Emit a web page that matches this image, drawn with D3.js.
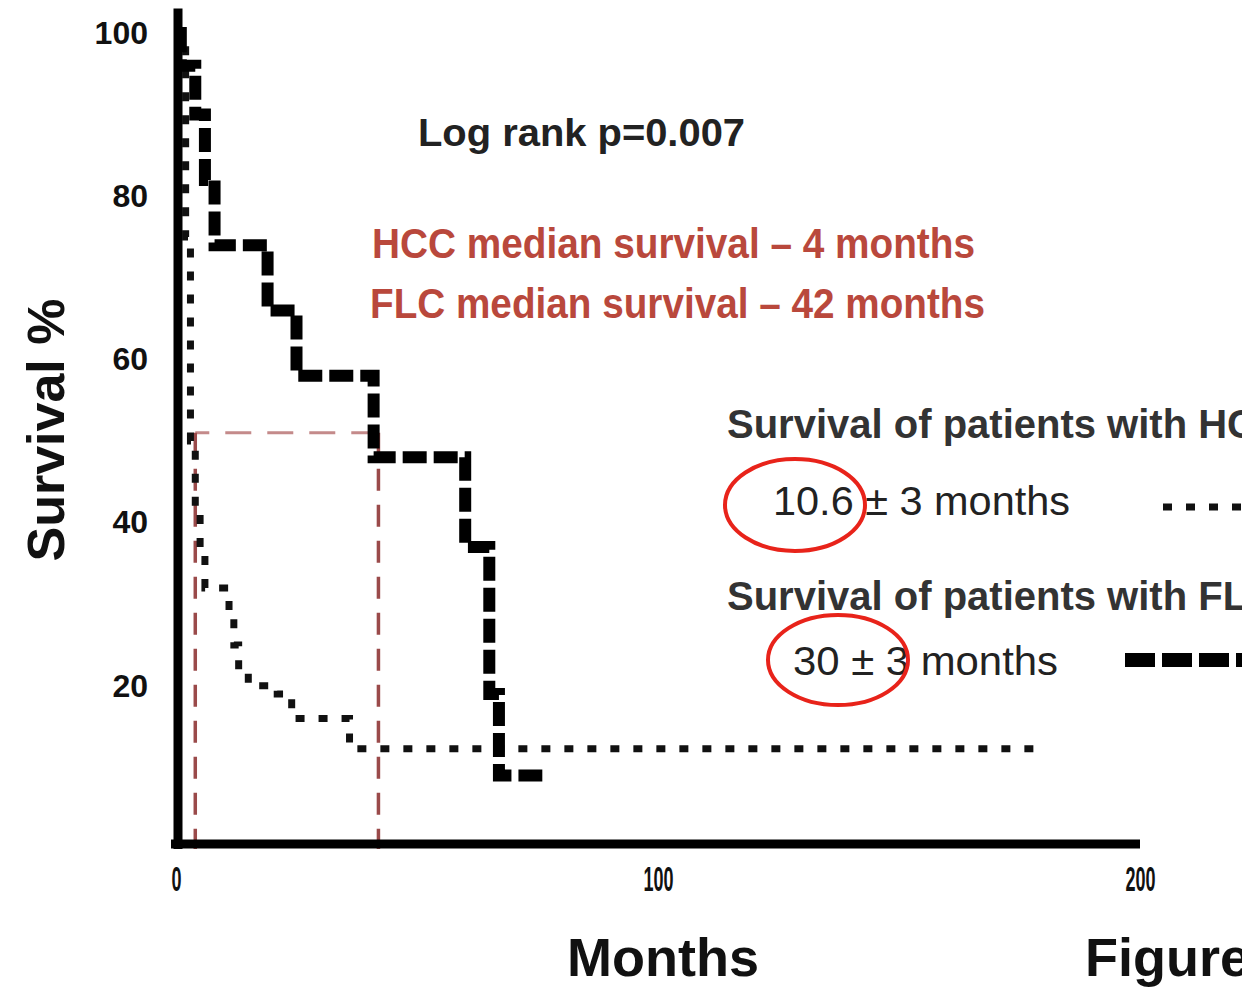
<!DOCTYPE html>
<html lang="en">
<head>
<meta charset="UTF-8">
<title>Survival HCC vs FLC</title>
<script src="https://d3js.org/d3.v7.min.js"></script>
<style>
  body { margin: 0; background: #fff; }
  text { font-family: "Liberation Sans", Arial, sans-serif; }
</style>
</head>
<body>
<script>
// survival steps: [month, survival %]
const hccSteps = [[0,100],[2,75],[3,50],[4,42],[5,36],[6,32],[11,29],[12,25],[13,22],[15,20],[21,19],[24,16],[36,12.3],[178,12.3]];
const flcSteps = [[0,100],[1,96],[4,90],[6,82],[8,74],[19,66],[25,58],[41,48],[60,37],[65,19],[67,9],[76,9]];
const medianMonths = [4, 42];
const medianLevel = 51;
const yTicks = [20, 40, 60, 80, 100];
const xTicks = [0, 100, 200];

const W = 1242, H = 990;
const svg = d3.select("body").append("svg").attr("width", W).attr("height", H);

const x = d3.scaleLinear().domain([0, 200]).range([176, 1140]);
const y = d3.scaleLinear().domain([0, 100]).range([849, 33]);

// median guide lines
const red = "#9a4a4a";
svg.append("line")
   .attr("x1", x(medianMonths[0])).attr("x2", x(medianMonths[1]))
   .attr("y1", y(medianLevel)).attr("y2", y(medianLevel))
   .attr("stroke", "#c48a8a").attr("stroke-width", 3).attr("stroke-dasharray", "26,16")
   .attr("stroke-dashoffset", -30);
svg.selectAll("line.med").data(medianMonths).enter().append("line")
   .attr("class", "med")
   .attr("x1", d => x(d)).attr("x2", d => x(d))
   .attr("y1", y(medianLevel)).attr("y2", y(0))
   .attr("stroke", red).attr("stroke-width", 3.5).attr("stroke-dasharray", "22,14");

// curves
const step = d3.line().x(d => x(d[0])).y(d => y(d[1])).curve(d3.curveStepAfter);

svg.append("path").datum(hccSteps)
   .attr("d", step).attr("fill", "none")
   .attr("stroke", "#111").attr("stroke-width", 7).attr("stroke-dasharray", "9,14");

svg.append("path").datum(flcSteps)
   .attr("d", step).attr("fill", "none")
   .attr("stroke", "#000").attr("stroke-width", 12).attr("stroke-dasharray", "24,7");

// axes
const yAxis = svg.append("g").attr("transform", `translate(${x(0)},0)`)
   .call(d3.axisLeft(y).tickValues(yTicks).tickSize(0).tickPadding(28));
yAxis.select(".domain").remove();
yAxis.selectAll("text")
   .attr("font-size", 32).attr("font-weight", "bold").attr("fill", "#111")
   .attr("font-family", "Liberation Sans, Arial, sans-serif");

const xAxis = svg.append("g").attr("transform", `translate(0,${y(0)})`)
   .call(d3.axisBottom(x).tickValues(xTicks).tickSize(0).tickPadding(16));
xAxis.select(".domain").remove();
xAxis.selectAll("text")
   .attr("font-size", 36).attr("font-weight", "bold").attr("fill", "#111")
   .attr("font-family", "Liberation Sans, Arial, sans-serif")
   .attr("transform", "scale(0.5,1)");

svg.append("line")
   .attr("x1", x(0) + 2).attr("x2", x(0) + 2)
   .attr("y1", y(103)).attr("y2", y(0))
   .attr("stroke", "#000").attr("stroke-width", 9);
svg.append("line")
   .attr("x1", x(0) - 5).attr("x2", x(200))
   .attr("y1", y(0) - 5).attr("y2", y(0) - 5)
   .attr("stroke", "#000").attr("stroke-width", 9);

// axis titles
svg.append("text").attr("x", 663).attr("y", 976).attr("text-anchor", "middle")
   .attr("font-size", 54).attr("font-weight", "bold").attr("fill", "#111").text("Months");
svg.append("text").attr("x", 1085).attr("y", 976)
   .attr("font-size", 54).attr("font-weight", "bold").attr("fill", "#111").text("Figure");
svg.append("text").attr("transform", "translate(64,430) rotate(-90)").attr("text-anchor", "middle")
   .attr("font-size", 52).attr("font-weight", "bold").attr("fill", "#111").text("Survival %");

// annotations
svg.append("text").attr("x", 418).attr("y", 146)
   .attr("font-size", 38).attr("font-weight", "bold").attr("fill", "#222")
   .attr("textLength", 327).attr("lengthAdjust", "spacingAndGlyphs").text("Log rank p=0.007");

const annoRed = "#b9483c";
svg.append("text").attr("x", 372).attr("y", 258)
   .attr("font-size", 42).attr("font-weight", "bold").attr("fill", annoRed)
   .attr("textLength", 603).attr("lengthAdjust", "spacingAndGlyphs").text("HCC median survival \u2013 4 months");
svg.append("text").attr("x", 370).attr("y", 318)
   .attr("font-size", 42).attr("font-weight", "bold").attr("fill", annoRed)
   .attr("textLength", 615).attr("lengthAdjust", "spacingAndGlyphs").text("FLC median survival \u2013 42 months");

// legend
svg.append("text").attr("x", 727).attr("y", 438)
   .attr("font-size", 40).attr("font-weight", "bold").attr("fill", "#333").text("Survival of patients with HCC");
svg.append("text").attr("x", 773).attr("y", 515)
   .attr("font-size", 40).attr("fill", "#222")
   .attr("textLength", 297).attr("lengthAdjust", "spacingAndGlyphs").text("10.6 \u00b1 3 months");
svg.append("text").attr("x", 727).attr("y", 610)
   .attr("font-size", 40).attr("font-weight", "bold").attr("fill", "#333").text("Survival of patients with FLC");
svg.append("text").attr("x", 793).attr("y", 675)
   .attr("font-size", 40).attr("fill", "#222")
   .attr("textLength", 265).attr("lengthAdjust", "spacingAndGlyphs").text("30 \u00b1 3 months");

svg.append("line").attr("x1", 1163).attr("x2", 1242).attr("y1", 507).attr("y2", 507)
   .attr("stroke", "#111").attr("stroke-width", 7).attr("stroke-dasharray", "9,14");
svg.append("line").attr("x1", 1125).attr("x2", 1242).attr("y1", 660).attr("y2", 660)
   .attr("stroke", "#000").attr("stroke-width", 14).attr("stroke-dasharray", "30,7");

// red highlight ellipses
svg.append("ellipse").attr("cx", 795).attr("cy", 505).attr("rx", 70).attr("ry", 46)
   .attr("fill", "none").attr("stroke", "#e8231a").attr("stroke-width", 4);
svg.append("ellipse").attr("cx", 838).attr("cy", 660).attr("rx", 70).attr("ry", 45)
   .attr("fill", "none").attr("stroke", "#e8231a").attr("stroke-width", 4);
</script>
</body>
</html>
